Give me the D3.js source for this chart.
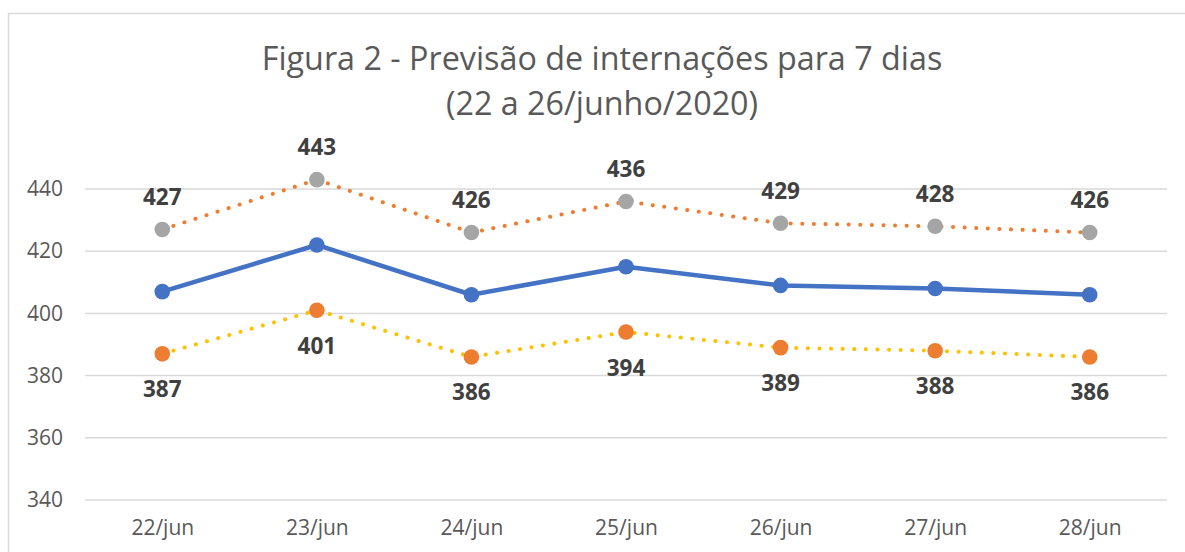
<!DOCTYPE html>
<html><head><meta charset="utf-8">
<script src="https://cdn.jsdelivr.net/npm/d3@7"></script>
<style>body{margin:0;background:#fff}svg{display:block}</style>
</head><body>
<svg id="c" width="1185" height="552"></svg>
<script>
const categories = ["22/jun","23/jun","24/jun","25/jun","26/jun","27/jun","28/jun"];
const upper = [427,443,426,436,429,428,426];
const middle = [407,422,406,415,409,408,406];
const lower = [387,401,386,394,389,388,386];
const yTicks = [340,360,380,400,420,440];
const titleLines = ["Figura 2 - Previsão de internações para 7 dias","(22 a 26/junho/2020)"];

const svg = d3.select("#c");
const font = "'Open Sans', sans-serif";
svg.append("rect").attr("x",8.5).attr("y",13.5).attr("width",1200).attr("height",600)
  .attr("fill","#fff").attr("stroke","#D9D9D9").attr("stroke-width",1.5);

const x = d3.scalePoint().domain(categories).range([85,1167]).padding(0.5);
const y = d3.scaleLinear().domain([340,440]).range([500,189]);

// gridlines
svg.append("g").selectAll("line").data(yTicks).join("line")
  .attr("x1",85).attr("x2",1167).attr("y1",d=>y(d)).attr("y2",d=>y(d))
  .attr("stroke","#D9D9D9").attr("stroke-width",1.5);

// y axis labels
const ya = svg.append("g").attr("transform","translate(63,0)")
  .call(d3.axisLeft(y).tickValues(yTicks).tickSize(0).tickPadding(0));
ya.select(".domain").remove();
ya.selectAll("text").attr("font-family",font).attr("font-size",21).attr("fill","#595959");

// x axis labels
const xa = svg.append("g").attr("transform","translate(0,520)")
  .call(d3.axisBottom(x).tickSize(0).tickPadding(0));
xa.select(".domain").remove();
xa.selectAll("text").attr("font-family",font).attr("font-size",21).attr("fill","#595959");

// title
svg.append("g").selectAll("text").data(titleLines).join("text")
  .attr("x",602).attr("y",(d,i)=>70+i*45).attr("text-anchor","middle")
  .attr("font-family",font).attr("font-size",32.3).attr("fill","#595959").text(d=>d);

const line = d3.line().x((d,i)=>x(categories[i])).y(d=>y(d));

function series(vals, lineColor, markerColor, dotted, labelDy){
  const p = svg.append("path").datum(vals).attr("d",line).attr("fill","none")
    .attr("stroke",lineColor);
  if(dotted){
    p.attr("stroke-width",4).attr("stroke-linecap","round").attr("stroke-dasharray","0.1 11.5");
  } else {
    p.attr("stroke-width",4.5).attr("stroke-linejoin","round");
  }
  svg.append("g").selectAll("circle").data(vals).join("circle")
    .attr("cx",(d,i)=>x(categories[i])).attr("cy",d=>y(d)).attr("r",7.8)
    .attr("fill",markerColor);
  if(labelDy!==null){
    svg.append("g").selectAll("text").data(vals).join("text")
      .attr("x",(d,i)=>x(categories[i])).attr("y",d=>y(d)+labelDy)
      .attr("text-anchor","middle").attr("dominant-baseline","central")
      .attr("font-family",font).attr("font-size",22.5).attr("font-weight","bold")
      .attr("fill","#404040").text(d=>d);
  }
}
series(upper,"#ED7D31","#A5A5A5",true,-33);
series(middle,"#4472C4","#4472C4",false,null);
series(lower,"#FFC000","#ED7D31",true,35);
</script>
</body></html>
